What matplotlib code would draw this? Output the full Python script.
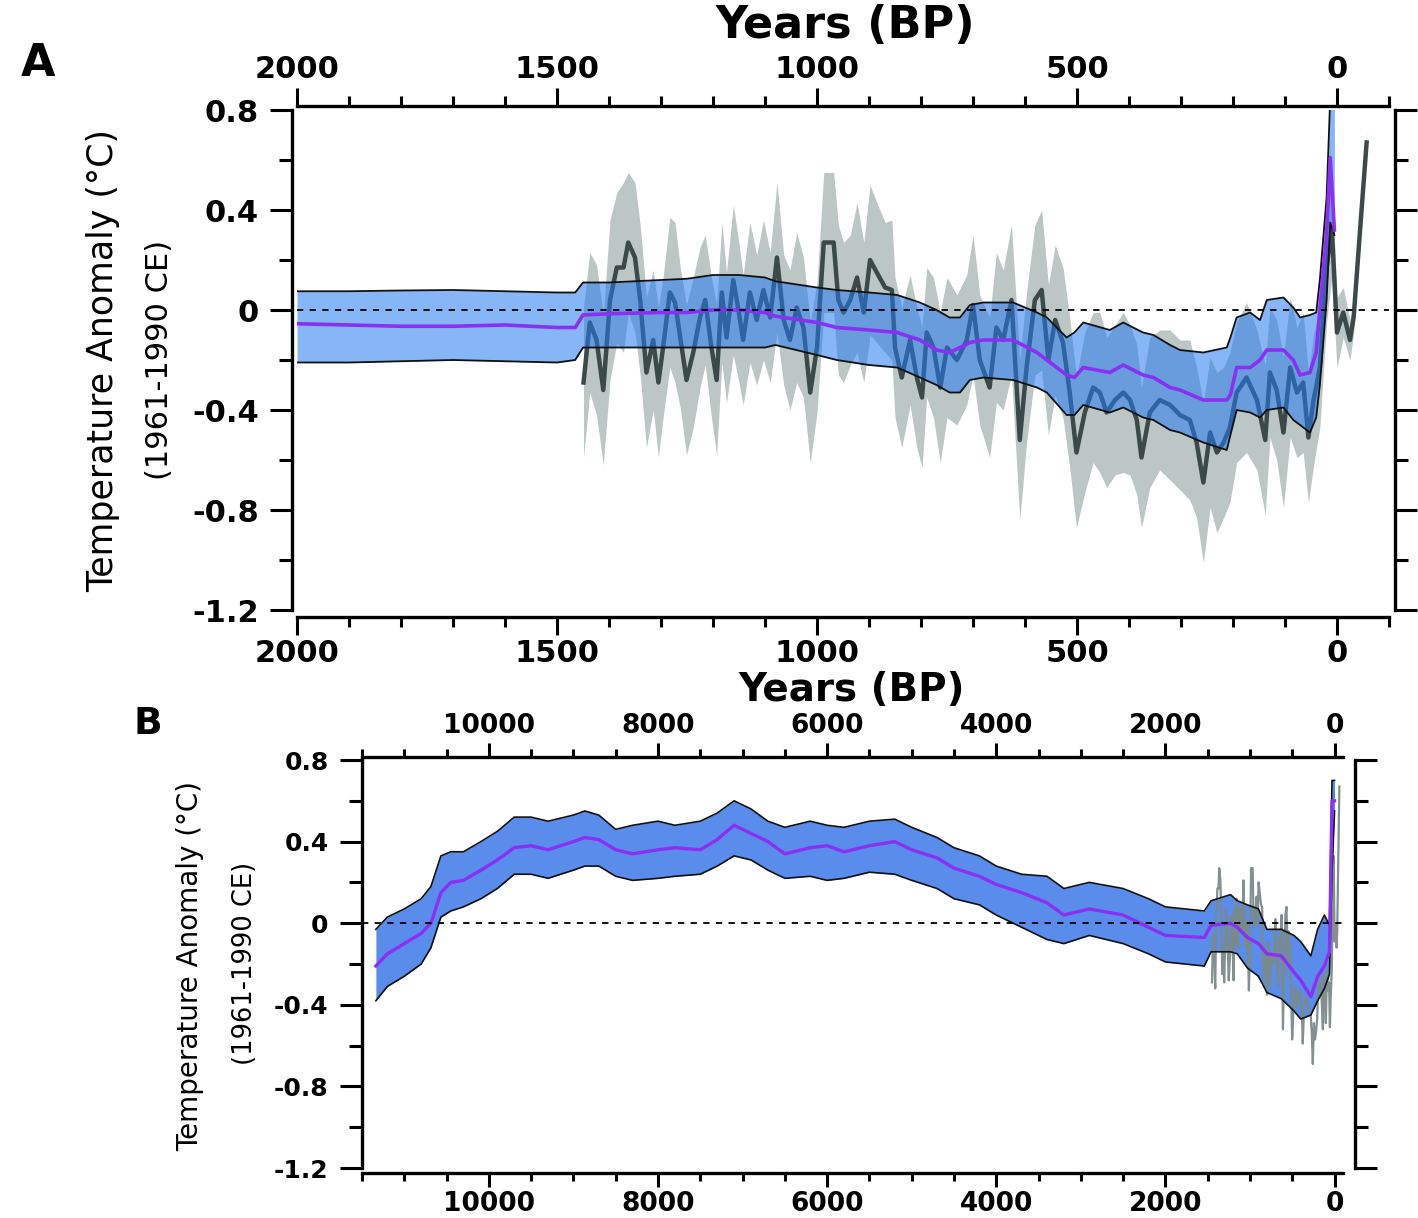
import numpy as np
import matplotlib.pyplot as plt
from matplotlib.ticker import MultipleLocator, FuncFormatter

# ---------------- data: panel A (last 2000 years) ----------------
a_years = [2000, 1900, 1800, 1700, 1600, 1500, 1465, 1450, 1400, 1300,
           1250, 1200, 1150, 1100, 1080, 1000, 962, 900, 846, 802,
           770, 745, 725, 706, 680, 623, 577, 558, 520, 505,
           488, 437, 411, 373, 353, 321, 302, 257, 212, 205,
           193, 167, 148, 135, 103, 84, 71, 52, 40, 33,
           20, 13, 5]
a_upper = [0.075, 0.075, 0.078, 0.08, 0.075, 0.07, 0.07, 0.11, 0.11, 0.12,
           0.125, 0.14, 0.14, 0.13, 0.115, 0.09, 0.08, 0.07, 0.06, 0.03,
           0.0, -0.03, -0.03, 0.02, 0.03, 0.03, -0.01, -0.03, -0.11, -0.09,
           -0.05, -0.08, -0.05, -0.09, -0.10, -0.14, -0.16, -0.17, -0.15, -0.11,
           -0.03, -0.01, -0.04, 0.04, 0.05, 0.01, -0.03, -0.02, -0.01, 0.12,
           0.45, 0.85, 0.85]
a_mean = [-0.055, -0.06, -0.065, -0.065, -0.06, -0.07, -0.07, -0.02, -0.015, -0.01,
          -0.01, 0.0, 0.0, -0.01, -0.025, -0.05, -0.07, -0.08, -0.09, -0.12,
          -0.16, -0.17, -0.15, -0.13, -0.12, -0.12, -0.17, -0.20, -0.26, -0.27,
          -0.23, -0.25, -0.22, -0.26, -0.27, -0.31, -0.32, -0.36, -0.36, -0.34,
          -0.23, -0.23, -0.20, -0.16, -0.16, -0.20, -0.26, -0.25, -0.17, 0.0,
          0.30, 0.61, 0.32]
a_lower = [-0.21, -0.21, -0.205, -0.20, -0.205, -0.21, -0.20, -0.15, -0.15, -0.15,
           -0.15, -0.15, -0.15, -0.15, -0.14, -0.18, -0.20, -0.22, -0.23, -0.27,
           -0.30, -0.33, -0.33, -0.28, -0.27, -0.28, -0.31, -0.33, -0.42, -0.42,
           -0.38, -0.41, -0.39, -0.43, -0.44, -0.48, -0.49, -0.53, -0.56, -0.50,
           -0.40, -0.41, -0.43, -0.40, -0.39, -0.44, -0.46, -0.49, -0.43, -0.30,
           0.04, 0.35, 0.30]

gray_years = [1449, 1437, 1424, 1411, 1398, 1385, 1372, 1363, 1350, 1340,
              1328, 1315, 1305, 1296, 1283, 1273, 1263, 1251, 1238, 1225,
              1215, 1203, 1193, 1183, 1174, 1161, 1151, 1142, 1129, 1116,
              1103, 1090, 1077, 1064, 1052, 1039, 1026, 1013, 1000, 987,
              968, 959, 949, 936, 923, 910, 898, 885, 869, 856,
              850, 837, 821, 808, 798, 789, 776, 763, 750, 731,
              712, 700, 687, 668, 655, 642, 626, 610, 597, 581,
              568, 555, 542, 527, 514, 501, 485, 469, 456, 443,
              427, 411, 398, 385, 376, 360, 341, 321, 302, 283,
              270, 257, 244, 231, 218, 206, 193, 174, 154, 138,
              129, 116, 103, 90, 77, 65, 55, 45, 33, 20,
              10, 0, -12, -25, -32, -44, -57]
gray_temp = [-0.29, -0.05, -0.12, -0.32, 0.04, 0.17, 0.17, 0.27, 0.21, 0.04,
             -0.25, -0.12, -0.29, -0.15, 0.07, 0.03, -0.11, -0.28, -0.17, -0.03,
             0.04, -0.15, -0.28, 0.07, -0.11, 0.12, 0.00, -0.12, 0.07, -0.04,
             0.08, -0.03, 0.21, -0.04, -0.12, 0.01, -0.07, -0.33, -0.15, 0.27,
             0.27, 0.04, -0.01, 0.04, 0.13, -0.01, 0.20, 0.15, 0.09, 0.08,
             -0.15, -0.27, -0.12, -0.27, -0.35, -0.09, -0.15, -0.31, -0.15, -0.20,
             -0.12, 0.02, -0.20, -0.31, -0.07, -0.12, 0.04, -0.52, -0.23, 0.04,
             0.08, -0.20, -0.04, -0.13, -0.33, -0.57, -0.41, -0.31, -0.33, -0.41,
             -0.36, -0.33, -0.36, -0.44, -0.59, -0.41, -0.36, -0.38, -0.42, -0.44,
             -0.53, -0.69, -0.49, -0.57, -0.53, -0.47, -0.33, -0.27, -0.36, -0.52,
             -0.25, -0.32, -0.49, -0.23, -0.33, -0.29, -0.51, -0.36, -0.23, 0.17,
             0.33, -0.09, -0.01, -0.12, -0.03, 0.31, 0.67]
gray_err = [0.30, 0.28, 0.30, 0.30, 0.32, 0.30, 0.34, 0.28, 0.30, 0.30,
            0.30, 0.28, 0.30, 0.28, 0.30, 0.32, 0.28, 0.30, 0.30, 0.28,
            0.26, 0.28, 0.30, 0.28, 0.26, 0.30, 0.28, 0.26, 0.28, 0.26,
            0.28, 0.26, 0.30, 0.26, 0.28, 0.30, 0.28, 0.28, 0.26, 0.28,
            0.28, 0.30, 0.28, 0.26, 0.30, 0.28, 0.30, 0.28, 0.26, 0.28,
            0.28, 0.28, 0.26, 0.28, 0.28, 0.26, 0.28, 0.30, 0.28, 0.26,
            0.26, 0.28, 0.26, 0.28, 0.30, 0.28, 0.30, 0.32, 0.30, 0.30,
            0.32, 0.30, 0.30, 0.30, 0.30, 0.30, 0.32, 0.30, 0.32, 0.30,
            0.30, 0.32, 0.30, 0.30, 0.28, 0.30, 0.28, 0.30, 0.30, 0.32,
            0.30, 0.32, 0.30, 0.32, 0.30, 0.30, 0.28, 0.30, 0.28, 0.30,
            0.26, 0.28, 0.30, 0.28, 0.26, 0.28, 0.26, 0.26, 0.24, 0.22,
            0.20, 0.14, 0.10, 0.08, 0.06, 0.05, 0.04]

# ---------------- data: panel B (Holocene) ----------------
b_years = [11336, 11200, 11000, 10800, 10685, 10567, 10450, 10300, 10094, 9900,
           9700, 9500, 9300, 9000, 8865, 8700, 8500, 8300, 8000, 7800,
           7500, 7300, 7100, 6900, 6700, 6500, 6200, 6000, 5800, 5500,
           5200, 5000, 4700, 4500, 4200, 4000, 3700, 3400, 3200, 2900,
           2500, 2200, 2000, 1540, 1460, 1230, 1150, 1030, 900, 800,
           630, 480, 400, 280, 200, 120, 60, 30, 0]
b_upper = [-0.03, 0.03, 0.07, 0.12, 0.18, 0.33, 0.35, 0.35, 0.40, 0.45,
           0.52, 0.52, 0.50, 0.53, 0.55, 0.53, 0.46, 0.48, 0.50, 0.48,
           0.50, 0.54, 0.60, 0.56, 0.50, 0.47, 0.50, 0.48, 0.47, 0.50,
           0.51, 0.47, 0.42, 0.37, 0.33, 0.28, 0.24, 0.23, 0.17, 0.20,
           0.17, 0.12, 0.08, 0.06, 0.11, 0.14, 0.11, 0.09, 0.07, -0.03,
           -0.03, -0.06, -0.09, -0.16, -0.03, 0.04, -0.01, 0.70, 0.70]
b_mean = [-0.21, -0.15, -0.10, -0.05, 0.0, 0.15, 0.20, 0.21, 0.26, 0.31,
          0.37, 0.38, 0.36, 0.40, 0.42, 0.41, 0.36, 0.34, 0.36, 0.37,
          0.36, 0.41, 0.48, 0.44, 0.40, 0.34, 0.37, 0.38, 0.35, 0.38,
          0.40, 0.36, 0.32, 0.27, 0.23, 0.19, 0.15, 0.10, 0.04, 0.07,
          0.04, -0.02, -0.06, -0.07, -0.01, 0.0, -0.02, -0.07, -0.10, -0.15,
          -0.16, -0.24, -0.28, -0.36, -0.26, -0.21, -0.14, 0.60, 0.60]
b_lower = [-0.38, -0.31, -0.26, -0.20, -0.12, 0.03, 0.06, 0.08, 0.12, 0.17,
           0.24, 0.24, 0.22, 0.26, 0.28, 0.28, 0.23, 0.21, 0.22, 0.23,
           0.24, 0.28, 0.33, 0.31, 0.26, 0.22, 0.23, 0.21, 0.22, 0.25,
           0.24, 0.21, 0.17, 0.12, 0.09, 0.04, -0.02, -0.08, -0.10, -0.06,
           -0.10, -0.15, -0.19, -0.21, -0.14, -0.14, -0.15, -0.22, -0.26, -0.34,
           -0.37, -0.43, -0.47, -0.45, -0.38, -0.32, -0.25, 0.25, 0.55]

W, H = 1418, 1218
plt.rcParams['font.family'] = ['DejaVu Sans']
plt.rcParams['font.weight'] = 'bold'

fig = plt.figure(figsize=(W / 100, H / 100), dpi=100)


def px_axes(l, t, r, b):
    return fig.add_axes([l / W, 1 - b / H, (r - l) / W, (b - t) / H])


def ylab(v, pos):
    return '0' if abs(v) < 1e-9 else f'{v:.1f}'


def style(ax, xmaj, xmin, offs, xlen, ylen, xfs, yfs, xpad, ypad):
    for side, o in offs.items():
        ax.spines[side].set_position(('outward', o))
        ax.spines[side].set_linewidth(2.4)
    ax.xaxis.set_major_locator(MultipleLocator(xmaj))
    ax.xaxis.set_minor_locator(MultipleLocator(xmin))
    ax.yaxis.set_major_locator(MultipleLocator(0.4))
    ax.yaxis.set_minor_locator(MultipleLocator(0.2))
    ax.yaxis.set_major_formatter(FuncFormatter(ylab))
    ax.tick_params(axis='x', which='both', top=True, bottom=True,
                   labeltop=True, labelbottom=True, direction='out', width=2.2)
    ax.tick_params(axis='x', which='major', length=xlen[0], pad=xpad, labelsize=xfs)
    ax.tick_params(axis='x', which='minor', length=xlen[1])
    ax.tick_params(axis='y', which='both', left=True, right=True,
                   labelleft=True, labelright=False, direction='out', width=2.2)
    ax.tick_params(axis='y', which='major', length=ylen[0], pad=ypad, labelsize=yfs)
    ax.tick_params(axis='y', which='minor', length=ylen[1])
    ax.axhline(0, color='k', lw=1.3, ls=(0, (3.5, 3.5)), zorder=6)


# ---------- panel A ----------
axA = px_axes(297, 110, 1389, 610)
axA.set_xlim(2000, -100)
axA.set_ylim(-1.2, 0.8)

gt = np.array(gray_temp)
ge = np.array(gray_err)
axA.fill_between(gray_years, gt + ge, gt - ge, color='#bcc6c5', lw=0, zorder=1)
axA.plot(gray_years, gray_temp, color='#3c4949', lw=3.2, zorder=2)
axA.fill_between(a_years, a_upper, a_lower, color='#237af0', alpha=0.55, lw=0, zorder=3)
axA.plot(a_years, a_upper, color='#111111', lw=1.3, zorder=4)
axA.plot(a_years, a_lower, color='#111111', lw=1.3, zorder=4)
axA.plot(a_years, a_mean, color='#8a30f2', lw=2.6, zorder=5)

style(axA, 500, 100, {'left': 3.6, 'right': 4.3, 'top': 2.9, 'bottom': 5},
      (13, 7.5), (16, 9.4), 22, 22, 3, 8)

# ---------- panel B ----------
axB = px_axes(362, 760, 1343, 1168)
axB.set_xlim(11500, -100)
axB.set_ylim(-1.2, 0.8)

axB.fill_between(b_years, b_upper, b_lower, color='#5a8ceb', lw=0, zorder=1)
axB.plot(gray_years, gray_temp, color='#7b8a8a', lw=1.6, alpha=0.95, zorder=2)
axB.plot(b_years, b_upper, color='#111111', lw=1.2, zorder=4)
axB.plot(b_years, b_lower, color='#111111', lw=1.2, zorder=4)
axB.plot(b_years, b_mean, color='#8a30f2', lw=2.4, zorder=5)

style(axB, 2000, 500, {'left': 0, 'right': 8.6, 'top': 2, 'bottom': 3.6},
      (10, 5.5), (16, 9.4), 19, 18, 3, 8)

# ---------- text ----------
fig.text(845 / W, 1 - 25 / H, 'Years (BP)', ha='center', va='center', fontsize=32)
fig.text(852 / W, 1 - 690 / H, 'Years (BP)', ha='center', va='center', fontsize=28)
fig.text(38 / W, 1 - 64 / H, 'A', ha='center', va='center', fontsize=32)
fig.text(148 / W, 1 - 724 / H, 'B', ha='center', va='center', fontsize=27)

fig.text(103 / W, 1 - 360 / H, 'Temperature Anomaly (°C)', rotation=90,
         ha='center', va='center', fontsize=25, fontweight='normal')
fig.text(160 / W, 1 - 360 / H, '(1961-1990 CE)', rotation=90,
         ha='center', va='center', fontsize=22, fontweight='normal')
fig.text(190 / W, 1 - 966 / H, 'Temperature Anomaly (°C)', rotation=90,
         ha='center', va='center', fontsize=20, fontweight='normal')
fig.text(245 / W, 1 - 963 / H, '(1961-1990 CE)', rotation=90,
         ha='center', va='center', fontsize=18.5, fontweight='normal')

fig.savefig('out.png', dpi=100)
